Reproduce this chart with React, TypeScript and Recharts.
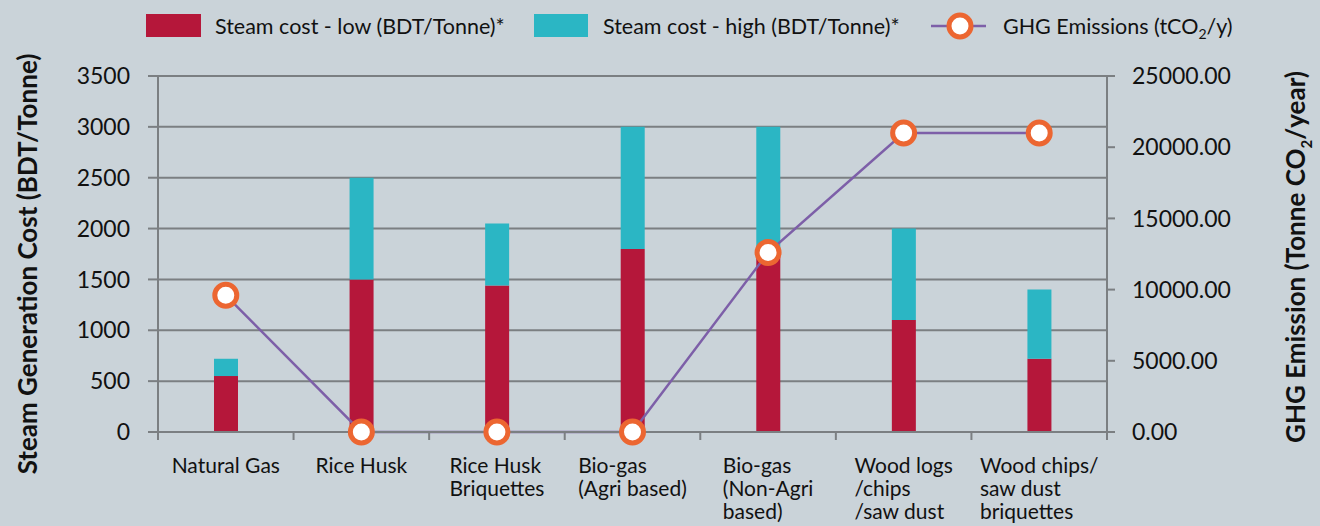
import React from 'react';
import { ComposedChart, Bar, Line, XAxis, YAxis, CartesianGrid } from 'recharts';

const categories = [
  'Natural Gas',
  'Rice Husk',
  'Rice Husk\nBriquettes',
  'Bio-gas\n(Agri based)',
  'Bio-gas\n(Non-Agri\nbased)',
  'Wood logs\n/chips\n/saw dust',
  'Wood chips/\nsaw dust\nbriquettes',
];
const steamCostLow = [550, 1500, 1440, 1800, 1800, 1100, 720];
const steamCostHigh = [720, 2500, 2050, 3000, 3000, 2000, 1400];
const ghgEmissions = [9600, 0, 0, 0, 12600, 21000, 21000];
const leftTicks = [0, 500, 1000, 1500, 2000, 2500, 3000, 3500];
const rightTicks = [0, 5000, 10000, 15000, 20000, 25000];

const data = categories.map((name, i) => ({
  name,
  low: steamCostLow[i],
  highExtra: steamCostHigh[i] - steamCostLow[i],
  ghg: ghgEmissions[i],
}));

const FONT = 'Lato, "Open Sans", sans-serif';
const BG = '#cad3d9';
const RED = '#b5173a';
const TEAL = '#2bb6c4';
const GRID = '#7b7f82';
const PURPLE = '#7d5fa8';
const ORANGE = '#ec6631';
const TEXT = '#111';

const XTick = (props: any) => {
  const { x, y, payload, index, visibleTicksCount } = props;
  const half = payload && payload.offset ? payload.offset : 67.8;
  const lines = String(payload.value).split('\n');
  return (
    <g>
      <line x1={x - half} y1={y} x2={x - half} y2={y + 8} stroke={GRID} strokeWidth={2} />
      {index === visibleTicksCount - 1 && (
        <line x1={x + half} y1={y} x2={x + half} y2={y + 8} stroke={GRID} strokeWidth={2} />
      )}
      <foreignObject x={x - half - 10} y={y + 21} width={2 * half + 20} height={80}>
        <div style={{ display: 'flex', justifyContent: 'center', width: '100%' }}>
          <div
            style={{
              textAlign: 'left',
              whiteSpace: 'nowrap',
              fontFamily: FONT,
              fontSize: 21,
              lineHeight: '23px',
              color: TEXT,
            }}
          >
            {lines.map((l, i) => (
              <div key={i}>{l}</div>
            ))}
          </div>
        </div>
      </foreignObject>
    </g>
  );
};

const GhgDot = (props: any) => {
  const { cx, cy, index } = props;
  if (cx == null || cy == null) return <g key={index} />;
  return <circle key={index} cx={cx} cy={cy} r={11} fill="#fff" stroke={ORANGE} strokeWidth={5} />;
};

const legendText: React.CSSProperties = {
  position: 'absolute',
  top: 11,
  fontFamily: FONT,
  fontSize: 21.5,
  lineHeight: '30px',
  color: TEXT,
  whiteSpace: 'nowrap',
};

export default function App() {
  return (
    <div style={{ position: 'absolute', left: 0, top: 0, width: 1320, height: 526, background: BG, overflow: 'hidden' }}>
      <div style={{ position: 'absolute', left: 146, top: 14, width: 55, height: 23, background: RED }} />
      <div style={{ ...legendText, left: 215 }}>Steam cost - low (BDT/Tonne)*</div>
      <div style={{ position: 'absolute', left: 534, top: 14, width: 54, height: 23, background: TEAL }} />
      <div style={{ ...legendText, left: 603 }}>Steam cost - high (BDT/Tonne)*</div>
      <svg style={{ position: 'absolute', left: 928, top: 10, overflow: 'visible' }} width={60} height={32}>
        <line x1={3} y1={16} x2={58} y2={16} stroke={PURPLE} strokeWidth={2.5} />
        <circle cx={32} cy={16} r={11} fill="#fff" stroke={ORANGE} strokeWidth={5} />
      </svg>
      <div style={{ ...legendText, left: 1003 }}>
        GHG Emissions (tCO<sub style={{ fontSize: 14, verticalAlign: '-5px', lineHeight: 0 }}>2</sub>/y)
      </div>

      <ComposedChart
        width={1320}
        height={526}
        data={data}
        margin={{ top: 76, right: 0, bottom: 34, left: 0 }}
        barCategoryGap={0}
        style={{ position: 'absolute', left: 0, top: 0 }}
      >
        <CartesianGrid yAxisId="left" vertical={false} stroke={GRID} strokeWidth={2} />
        <XAxis
          dataKey="name"
          height={60}
          tickSize={0}
          tickMargin={0}
          tickLine={false}
          interval={0}
          axisLine={{ stroke: GRID, strokeWidth: 2 }}
          tick={<XTick />}
        />
        <YAxis
          yAxisId="left"
          width={158}
          domain={[0, 3500]}
          ticks={leftTicks}
          interval={0}
          tickSize={10}
          tickMargin={18}
          axisLine={{ stroke: GRID, strokeWidth: 2 }}
          tickLine={{ stroke: GRID, strokeWidth: 2 }}
          tick={{ fontFamily: FONT, fontSize: 23, fill: TEXT }}
          label={{
            content: () => (
              <text
                x={37}
                y={264}
                transform="rotate(-90 37 264)"
                textAnchor="middle"
                fontFamily={FONT}
                fontWeight={700}
                fontSize={26}
                fill={TEXT}
              >
                Steam Generation Cost (BDT/Tonne)
              </text>
            ),
          }}
        />
        <YAxis
          yAxisId="right"
          orientation="right"
          width={213}
          domain={[0, 25000]}
          ticks={rightTicks}
          interval={0}
          tickSize={8}
          tickMargin={17}
          tickFormatter={(v: number) => v.toFixed(2)}
          axisLine={{ stroke: GRID, strokeWidth: 2 }}
          tickLine={{ stroke: GRID, strokeWidth: 2 }}
          tick={{ fontFamily: FONT, fontSize: 23, fill: TEXT, textAnchor: 'start' }}
          label={{
            content: () => (
              <text
                x={1305}
                y={257}
                transform="rotate(-90 1305 257)"
                textAnchor="middle"
                fontFamily={FONT}
                fontWeight={700}
                fontSize={26}
                fill={TEXT}
              >
                GHG Emission (Tonne CO
                <tspan fontSize={15} dy={7}>2</tspan>
                <tspan dy={-7}>/year)</tspan>
              </text>
            ),
          }}
        />
        <Bar yAxisId="left" dataKey="low" stackId="s" fill={RED} barSize={24} isAnimationActive={false} />
        <Bar yAxisId="left" dataKey="highExtra" stackId="s" fill={TEAL} barSize={24} isAnimationActive={false} />
        <Line
          yAxisId="right"
          dataKey="ghg"
          type="linear"
          stroke={PURPLE}
          strokeWidth={2.5}
          dot={<GhgDot />}
          activeDot={false}
          isAnimationActive={false}
        />
      </ComposedChart>
    </div>
  );
}
